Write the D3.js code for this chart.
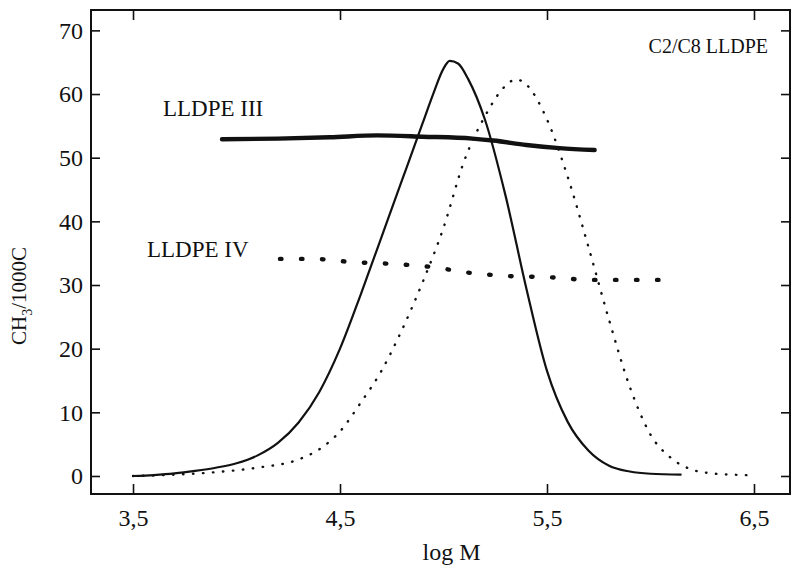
<!DOCTYPE html>
<html>
<head>
<meta charset="utf-8">
<script src="https://cdn.jsdelivr.net/npm/d3@7"></script>
<style>
  body { margin: 0; background: #fff; }
  text { font-family: "Liberation Serif", "Times New Roman", serif; fill: #111; }
</style>
</head>
<body>
<svg id="chart" width="793" height="574"></svg>
<script>
'use strict'

// molecular weight distribution, LLDPE III (solid)
let mwdIII_x = [3.5, 3.6, 3.7, 3.8, 3.9, 4.0, 4.1, 4.2, 4.3, 4.4, 4.5, 4.6, 4.7, 4.8, 4.9, 4.95, 5.0, 5.03, 5.07, 5.12, 5.2, 5.3, 5.4, 5.5, 5.6, 5.7, 5.8, 5.9, 6.0, 6.15];
let mwdIII_y = [0, 0.15, 0.4, 0.8, 1.3, 2.0, 3.2, 5.2, 8.4, 13.2, 20.0, 28.5, 37.5, 46.5, 55.5, 60.0, 64.0, 65.2, 64.8, 62.3, 56, 44, 29.5, 16.5, 8.5, 4.0, 1.6, 0.7, 0.35, 0.2];

// molecular weight distribution, LLDPE IV (fine dots)
let mwdIV_x = [3.5, 3.7, 3.9, 4.1, 4.3, 4.4, 4.5, 4.6, 4.7, 4.8, 4.9, 5.0, 5.1, 5.2, 5.3, 5.35, 5.4, 5.5, 5.6, 5.7, 5.8, 5.9, 6.0, 6.1, 6.2, 6.3, 6.4, 6.5];
let mwdIV_y = [0, 0.2, 0.6, 1.3, 2.6, 4.2, 7.0, 11.5, 16.5, 23, 30.5, 39, 49.5, 56.5, 61.3, 62.3, 61.5, 56, 47, 36, 24.5, 14, 6.5, 2.8, 1.0, 0.4, 0.2, 0.1];

// CH3/1000C across the distribution
let brIII_x = [3.93, 4.2, 4.45, 4.68, 4.9, 5.14, 5.24, 5.4, 5.56, 5.73];
let brIII_y = [52.9, 53.0, 53.2, 53.5, 53.3, 53.0, 52.7, 52.0, 51.5, 51.2];
let brIV_x = [4.21, 4.37, 4.56, 4.76, 4.95, 5.13, 5.32, 5.52, 5.71, 6.07];
let brIV_y = [34.1, 34.1, 33.6, 33.3, 32.8, 31.9, 31.4, 31.2, 30.8, 30.8];

let xTicks = [3.5, 4.5, 5.5, 6.5];
let yTicks = [0, 10, 20, 30, 40, 50, 60, 70];

var margin = {top: 10, right: 3, bottom: 80, left: 91},
    width = 793 - margin.left - margin.right,
    height = 574 - margin.top - margin.bottom;

var svg = d3.select("#chart")
  .append("g")
    .attr("transform", "translate(" + margin.left + "," + margin.top + ")");

var x = d3.scaleLinear().domain([3.297, 6.674]).range([0, width]);
var y = d3.scaleLinear().domain([-2.83, 73.2]).range([height, 0]);

var fmt = function(d) { return d3.format(".1f")(d).replace(".", ","); };

// axes, ticks inward on all four sides
svg.append("g")
  .attr("transform", "translate(0," + height + ")")
  .call(d3.axisBottom(x).tickValues(xTicks).tickSize(-10).tickPadding(15).tickFormat(fmt));
svg.append("g")
  .call(d3.axisTop(x).tickValues(xTicks).tickSize(-10).tickFormat(""));
svg.append("g")
  .call(d3.axisLeft(y).tickValues(yTicks).tickSize(-9).tickPadding(8));
svg.append("g")
  .attr("transform", "translate(" + width + ",0)")
  .call(d3.axisRight(y).tickValues(yTicks).tickSize(-9).tickFormat(""));

svg.selectAll(".domain").remove();
svg.selectAll(".tick line").attr("stroke", "#111").attr("stroke-width", 1.6);
svg.selectAll(".tick text")
  .style("font-family", "Liberation Serif, serif")
  .style("font-size", "24px")
  .attr("fill", "#111");

svg.append("rect")
  .attr("width", width).attr("height", height)
  .attr("fill", "none").attr("stroke", "#111").attr("stroke-width", 2);

var line = d3.line()
  .x(function(d) { return x(d[0]); })
  .y(function(d) { return y(d[1]); })
  .curve(d3.curveMonotoneX);

svg.append("path")
  .datum(d3.zip(mwdIII_x, mwdIII_y))
  .attr("d", line)
  .attr("fill", "none").attr("stroke", "#111").attr("stroke-width", 2.2);

svg.append("path")
  .datum(d3.zip(mwdIV_x, mwdIV_y))
  .attr("d", line)
  .attr("fill", "none").attr("stroke", "#111").attr("stroke-width", 2.4)
  .attr("stroke-linecap", "round")
  .attr("stroke-dasharray", "0.5,9.5");

svg.append("path")
  .datum(d3.zip(brIII_x, brIII_y))
  .attr("d", line)
  .attr("fill", "none").attr("stroke", "#111").attr("stroke-width", 4.4)
  .attr("stroke-linecap", "round");

svg.append("path")
  .datum(d3.zip(brIV_x, brIV_y))
  .attr("d", line)
  .attr("fill", "none").attr("stroke", "#111").attr("stroke-width", 4.4)
  .attr("stroke-linecap", "round")
  .attr("stroke-dasharray", "1.5,19.5");

// labels
svg.append("text")
  .attr("x", 677).attr("y", 43)
  .attr("text-anchor", "end")
  .style("font-size", "20px")
  .text("C2/C8 LLDPE");

svg.append("text")
  .attr("x", 72).attr("y", 106)
  .style("font-size", "23px")
  .text("LLDPE III");

svg.append("text")
  .attr("x", 56).attr("y", 247)
  .style("font-size", "23px")
  .text("LLDPE IV");

svg.append("text")
  .attr("x", x(5.0) + 8).attr("y", height + 66)
  .attr("text-anchor", "middle")
  .style("font-size", "24px")
  .text("log M");

var yl = svg.append("text")
  .attr("transform", "translate(-65," + (height / 2 + 44) + ") rotate(-90)")
  .attr("text-anchor", "middle")
  .style("font-size", "21px");
yl.append("tspan").text("CH");
yl.append("tspan").attr("dy", 6).style("font-size", "14px").text("3");
yl.append("tspan").attr("dy", -6).text("/1000C");
</script>
</body>
</html>
